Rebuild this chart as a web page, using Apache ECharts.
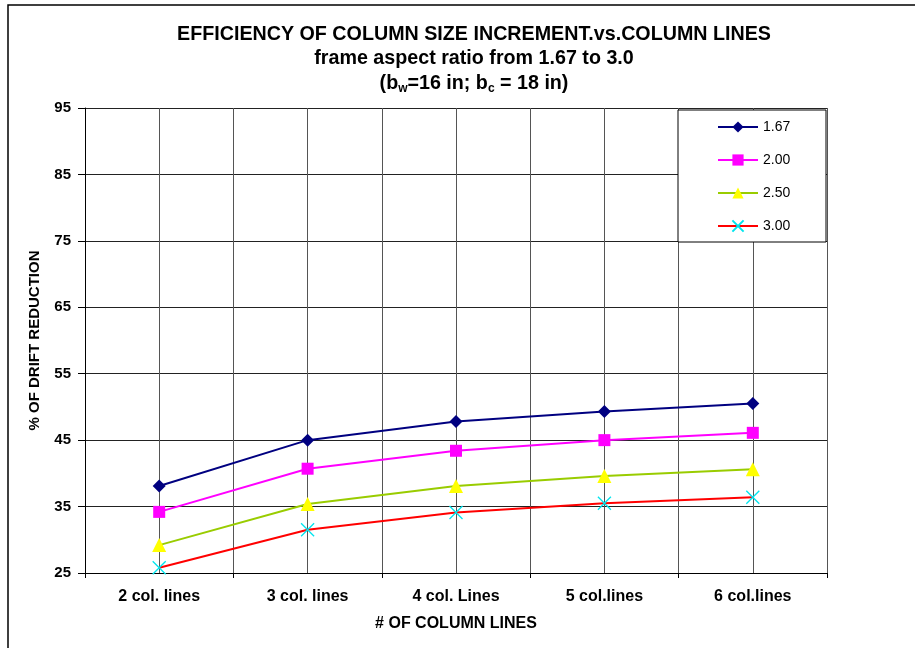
<!DOCTYPE html>
<html>
<head>
<meta charset="utf-8">
<script src="https://cdn.jsdelivr.net/npm/echarts@6/dist/echarts.min.js"></script>
<style>
  html, body { margin: 0; padding: 0; background: #fff; }
  #main { width: 915px; height: 648px; }
</style>
</head>
<body>
<div id="main"></div>
<script>
// data
var categories = ['2 col. lines', '3 col. lines', '4 col. Lines', '5 col.lines', '6 col.lines'];
var ratio167 = [38.1, 45.0, 47.8, 49.3, 50.5];
var ratio200 = [34.2, 40.7, 43.4, 45.0, 46.1];
var ratio250 = [29.2, 35.4, 38.1, 39.6, 40.6];
var ratio300 = [25.8, 31.5, 34.1, 35.5, 36.4];
var seriesNames = ['1.67', '2.00', '2.50', '3.00'];
var yTicks = [25, 35, 45, 55, 65, 75, 85, 95];

var font = 'Liberation Sans, Arial, sans-serif';
var myChart = echarts.init(document.getElementById('main'));

function lineSeries(name, data, lineColor, symbol, size, symColor, border) {
	return {
		name: name,
		type: 'line',
		data: data,
		xAxisIndex: 0,
		symbol: symbol,
		symbolSize: size,
		lineStyle: { color: lineColor, width: 2 },
		itemStyle: border ? { color: 'rgba(0,0,0,0)', borderColor: symColor, borderWidth: 1.3 }
		                  : { color: symColor, borderWidth: 0 },
		emphasis: { disabled: true },
		z: 5
	};
}

var option = {
	backgroundColor: '#fff',
	animation: false,
	textStyle: { fontFamily: font },
	title: {
		left: 469,
		top: 17,
		textAlign: 'center',
		text: '{t|EFFICIENCY OF COLUMN SIZE INCREMENT.vs.COLUMN LINES}\n{t|frame aspect ratio from 1.67 to 3.0}\n{t|(b}{s|w}{t|=16 in; b}{s|c}{t| = 18 in)}',
		textStyle: {
			rich: {
				t: { fontFamily: font, fontSize: 19.7, fontWeight: 'bold', color: '#000', lineHeight: 24.5 },
				s: { fontFamily: font, fontSize: 12, fontWeight: 'bold', color: '#000', lineHeight: 24.5, padding: [10, 0, 0, 0] }
			}
		}
	},
	graphic: [
		{ type: 'rect', shape: { x: 8, y: 5, width: 930, height: 670 },
		  style: { fill: 'none', stroke: '#000', lineWidth: 1.5 }, z: 0, silent: true },
		{ type: 'rect', shape: { x: 678, y: 110, width: 148, height: 132 },
		  style: { fill: '#fff', stroke: '#000', lineWidth: 1 }, z: 6, silent: true }
	],
	legend: {
		data: seriesNames,
		orient: 'vertical',
		left: 678,
		top: 110,
		padding: [10, 20, 9, 39],
		itemWidth: 40,
		itemHeight: 14,
		itemGap: 19,
		z: 7,
		textStyle: { fontFamily: font, fontSize: 14, color: '#000' }
	},
	grid: { left: 85, right: 88, top: 108, bottom: 75 },
	xAxis: [
		{
			type: 'category',
			data: categories,
			boundaryGap: true,
			axisLine: { lineStyle: { color: '#000', width: 1 } },
			axisTick: { show: true, length: 5, lineStyle: { color: '#000' } },
			axisLabel: { fontFamily: font, fontSize: 16, fontWeight: 'bold', color: '#000', margin: 16 },
			splitLine: { show: false },
			name: '# OF COLUMN LINES',
			nameLocation: 'middle',
			nameGap: 43,
			nameTextStyle: { fontFamily: font, fontSize: 16, fontWeight: 'bold', color: '#000' }
		},
		{
			// hidden helper axis: vertical grid lines at category centres and boundaries
			type: 'value',
			min: 0,
			max: 10,
			interval: 1,
			position: 'bottom',
			axisLine: { show: false },
			axisTick: { show: false },
			axisLabel: { show: false },
			splitLine: { show: true, lineStyle: { color: '#555', width: 1 } }
		}
	],
	yAxis: {
		type: 'value',
		min: yTicks[0],
		max: yTicks[yTicks.length - 1],
		interval: 10,
		axisLine: { show: true, lineStyle: { color: '#000', width: 1 } },
		axisTick: { show: true, length: 7, lineStyle: { color: '#000' } },
		axisLabel: { fontFamily: font, fontSize: 15, fontWeight: 'bold', color: '#000', margin: 14 },
		splitLine: { show: true, lineStyle: { color: '#222', width: 1 } },
		name: '% OF DRIFT REDUCTION',
		nameLocation: 'middle',
		nameRotate: 90,
		nameGap: 43,
		nameTextStyle: { fontFamily: font, fontSize: 15, fontWeight: 'bold', color: '#000' }
	},
	series: [
		lineSeries('1.67', ratio167, '#000080', 'diamond', 13, '#000080', false),
		lineSeries('2.00', ratio200, '#FF00FF', 'rect', 12, '#FF00FF', false),
		lineSeries('2.50', ratio250, '#99CC00', 'triangle', 14, '#FFFF00', false),
		lineSeries('3.00', ratio300, '#FF0000', 'path://M0,0L10,10M10,0L0,10', 13, '#00E5EE', true)
	]
};

myChart.setOption(option);
</script>
</body>
</html>
